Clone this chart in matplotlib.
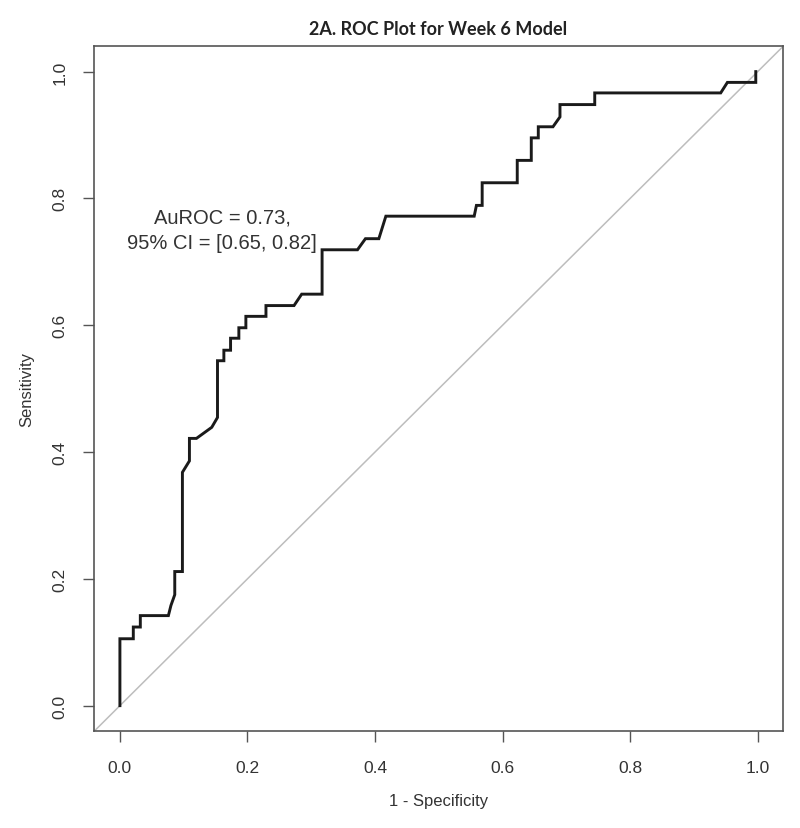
import matplotlib
matplotlib.use("Agg")
import matplotlib.pyplot as plt

# ROC curve vertices (1 - specificity, sensitivity)
fpr = [0.0, 0.0, 0.021, 0.021, 0.032, 0.032, 0.076, 0.080, 0.086, 0.086, 0.098, 0.098,
       0.109, 0.109, 0.120, 0.144, 0.153, 0.153, 0.163, 0.163, 0.1735, 0.1735, 0.1865,
       0.1865, 0.1975, 0.1975, 0.229, 0.229, 0.273, 0.285, 0.317, 0.317, 0.3725, 0.385,
       0.406, 0.417, 0.5555, 0.559, 0.568, 0.568, 0.623, 0.623, 0.645, 0.645, 0.656,
       0.656, 0.679, 0.690, 0.690, 0.7445, 0.7445, 0.942, 0.9525, 0.997, 0.997]
tpr = [0.0, 0.1055, 0.1055, 0.124, 0.124, 0.142, 0.142, 0.158, 0.175, 0.2115, 0.2115, 0.368,
       0.386, 0.4215, 0.4215, 0.439, 0.4545, 0.544, 0.544, 0.5606, 0.5606, 0.5795, 0.5795,
       0.596, 0.596, 0.614, 0.614, 0.631, 0.631, 0.649, 0.649, 0.719, 0.719, 0.7365,
       0.7365, 0.772, 0.772, 0.789, 0.789, 0.8247, 0.8247, 0.860, 0.860, 0.8955, 0.8955,
       0.913, 0.913, 0.9286, 0.948, 0.948, 0.9664, 0.9664, 0.983, 0.983, 1.0]

ticks = [0.0, 0.2, 0.4, 0.6, 0.8, 1.0]
tick_labels = ["0.0", "0.2", "0.4", "0.6", "0.8", "1.0"]
title = "2A. ROC Plot for Week 6 Model"
annotation = "AuROC = 0.73,\n95% CI = [0.65, 0.82]"

plt.rcParams['font.family'] = ['Liberation Sans', 'DejaVu Sans']

fig = plt.figure(figsize=(8.0, 8.29), dpi=100)
ax = fig.add_axes([0.118, 0.117, 0.861, 0.826])

ax.axline((0, 0), (1, 1), color="#bdbdbd", lw=1.1, zorder=1)
ax.plot(fpr, tpr, color="#1a1a1a", lw=2.1, solid_joinstyle="miter", zorder=3)

ax.set_xlim(-0.04, 1.04)
ax.set_ylim(-0.04, 1.04)
ax.set_xticks(ticks)
ax.set_xticklabels(tick_labels)
ax.set_yticks(ticks)
ax.set_yticklabels(tick_labels, rotation=90, va="center")
ax.tick_params(axis="both", direction="out", length=8, width=1.0, color="#555555",
               labelsize=12.5, labelcolor="#333333")
ax.tick_params(axis="x", pad=13)
ax.tick_params(axis="y", pad=11.5)
for s in ax.spines.values():
    s.set_color("#555555")
    s.set_linewidth(1.2)

ax.set_xlabel("1 - Specificity", fontsize=12, color="#333333", labelpad=13)
ax.set_ylabel("Sensitivity", fontsize=12, color="#333333", labelpad=13)

ax.text(0.16, 0.751, annotation, ha="center", va="center", fontsize=14.5,
        color="#333333", linespacing=1.45)

fig.text(0.548, 0.965, title, ha="center", va="center", fontsize=13,
         fontweight="bold", family=["Lato", "DejaVu Sans"], color="#222222")

fig.savefig("out.png", dpi=100, facecolor="white")
